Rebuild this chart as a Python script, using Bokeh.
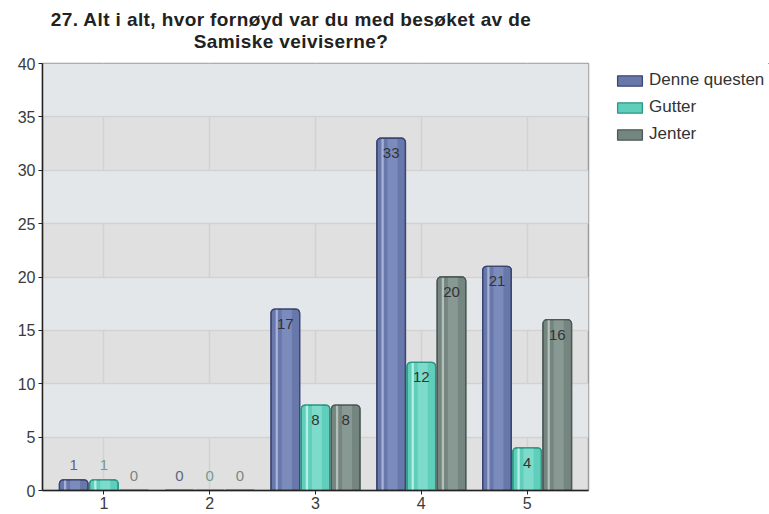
from bokeh.plotting import figure
from bokeh.models import (ColumnDataSource, Range1d, FixedTicker, Legend, LegendItem, Div)
from bokeh.layouts import column, row
from bokeh.core.properties import value
from bokeh.embed import file_html
from bokeh.resources import INLINE

# ---- data ----
categories = ["1", "2", "3", "4", "5"]
series_names = ["Denne questen", "Gutter", "Jenter"]
denne = [1, 0, 17, 33, 21]
gutter = [1, 0, 8, 12, 4]
jenter = [0, 0, 8, 20, 16]
title_lines = ["27. Alt i alt, hvor fornøyd var du med besøket av de", "Samiske veiviserne?"]
y_ticks = [0, 5, 10, 15, 20, 25, 30, 35, 40]

# ---- style ----
FONT = "Liberation Sans"
fills = ["#6878aa", "#5fcfbc", "#75857f"]
lights = ["#8898c8", "#8fe2d4", "#95a5a0"]
highlights = ["#a8b2d6", "#b5f0e6", "#b3bfbb"]
borders = ["#3b4672", "#2b9684", "#4b5a55"]
out_label_colors = ["#5d6682", "#6f9c94", "#7d8582"]
offsets = [-0.285, 0.0, 0.285]
bar_w = 0.27
TITLE_H = 53
PLOT_H = 514 - TITLE_H
PLOT_W = 590
LEG_W = 769 - PLOT_W

title = Div(text="<br>".join(title_lines), width=582, height=TITLE_H, margin=(0, 0, 0, 0),
            styles={"font-family": FONT, "font-size": "19px", "font-weight": "bold",
                    "letter-spacing": "0.4px",
                    "color": "#222222", "text-align": "center", "line-height": "22px",
                    "padding-top": "9px", "width": "582px", "box-sizing": "border-box",
                    "white-space": "nowrap"})

p = figure(width=PLOT_W, height=PLOT_H, output_backend="svg", toolbar_location=None,
           x_range=Range1d(0.42, 5.58), y_range=Range1d(0, 40),
           min_border_left=42, min_border_top=63 - TITLE_H, min_border_right=2,
           min_border_bottom=24, margin=(0, 0, 0, 0),
           background_fill_color="#e0e0e0", border_fill_color="white")
p.outline_line_color = "#9a9a9a"
p.outline_line_width = 1.5

# grid
p.xgrid.ticker = FixedTicker(ticks=list(range(1, len(categories) + 1)))
p.ygrid.ticker = FixedTicker(ticks=y_ticks)
for g in (p.xgrid[0], p.ygrid[0]):
    g.grid_line_color = "#d2d2d2"
    g.grid_line_width = 1.5
p.ygrid.band_fill_color = "#e4e7ea"
p.ygrid.band_fill_alpha = 1.0

# axes
p.xaxis.ticker = FixedTicker(ticks=list(range(1, len(categories) + 1)))
p.xaxis.major_label_overrides = {i + 1: c for i, c in enumerate(categories)}
p.yaxis.ticker = FixedTicker(ticks=y_ticks)
for ax in (p.xaxis[0], p.yaxis[0]):
    ax.axis_line_color = "#222222"
    ax.axis_line_width = 1.5
    ax.major_tick_line_color = "#222222"
    ax.major_tick_out = 4
    ax.major_tick_in = 0
    ax.minor_tick_line_color = None
    ax.major_label_text_font = FONT
    ax.major_label_text_font_size = "16px"
    ax.major_label_text_color = "#3a3a3a"
    ax.major_label_standoff = 3
p.xaxis.major_label_standoff = 2

series = [denne, gutter, jenter]
sources = []
for k, vals in enumerate(series):
    xs = [i + 1 + offsets[k] for i in range(len(vals))]
    src = ColumnDataSource(dict(x=xs, top=vals,
                                x_hl=[x - bar_w * 0.30 for x in xs],
                                x_c=[x + bar_w * 0.05 for x in xs]))
    sources.append(src)
    p.vbar(x="x", top="top", bottom=0, width=bar_w, source=src,
           fill_color=fills[k], line_color=borders[k], line_width=1.3,
           border_radius=(4, 4, 0, 0))
    p.vbar(x="x_c", top="top", bottom=0, width=bar_w * 0.35, source=src,
           fill_color=lights[k], line_color=None, fill_alpha=0.6)
    p.vbar(x="x_hl", top="top", bottom=0, width=bar_w * 0.08, source=src,
           fill_color=highlights[k], line_color=None)
    p.vbar(x="x", top="top", bottom=0, width=bar_w, source=src,
           fill_color=None, line_color=borders[k], line_width=1.3,
           border_radius=(4, 4, 0, 0))

    # value labels
    ins = {"x": [], "y": [], "t": []}
    outs = {"x": [], "y": [], "t": []}
    for x, v in zip(xs, vals):
        d = ins if v > 2 else outs
        d["x"].append(x); d["y"].append(v); d["t"].append(str(v))
    p.text(x="x", y="y", text="t", source=ColumnDataSource(ins),
           text_align="center", text_baseline="top", y_offset=10,
           text_font=value(FONT), text_font_size="15px", text_color="#333333")
    p.text(x="x", y="y", text="t", source=ColumnDataSource(outs),
           text_align="center", text_baseline="bottom", y_offset=-10,
           text_font=value(FONT), text_font_size="15px", text_color=out_label_colors[k])

# ---- legend in its own small figure to the right (its view range shows no bars) ----
lf = figure(width=LEG_W, height=PLOT_H, output_backend="svg", toolbar_location=None,
            x_range=Range1d(-20, -19), y_range=Range1d(-20, -19),
            min_border=0, min_border_left=17, margin=(0, 0, 0, 0), outline_line_color=None,
            background_fill_color="white", border_fill_color="white")
lf.axis.visible = False
lf.grid.visible = False
legend_renderers = []
for k in range(len(series_names)):
    legend_renderers.append(
        lf.vbar(x="x", top="top", width=bar_w, source=sources[k],
                fill_color=fills[k], line_color=borders[k], line_width=1.3))
legend = Legend(items=[LegendItem(label=n, renderers=[r]) for n, r in zip(series_names, legend_renderers)],
                location="top_left", orientation="vertical")
legend.background_fill_alpha = 0
legend.border_line_color = None
legend.padding = 0
legend.margin = 7
legend.spacing = 7
legend.glyph_width = 31
legend.glyph_height = 13
legend.label_height = 20
legend.label_standoff = 4
legend.label_text_font = FONT
legend.label_text_font_size = "17px"
legend.label_text_color = "#333333"
lf.add_layout(legend, "center")

layout = column(title, row(p, lf, spacing=0, margin=(0, 0, 0, 0)), spacing=0, margin=(0, 0, 0, 0))
open("out.html", "w").write(file_html(layout, INLINE))
